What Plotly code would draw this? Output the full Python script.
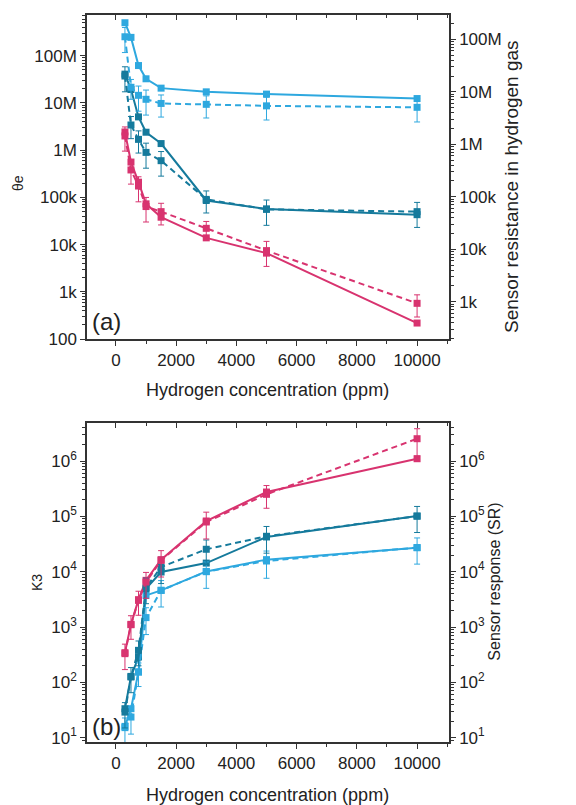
import plotly.graph_objects as go

# ---------------- data ----------------
conc = [300, 500, 750, 1000, 1500, 3000, 5000, 10000]

# Panel (a): theta_e (left axis, solid lines)
theta_lb = [5.0e8, 2.45e8, 6.2e7, 3.25e7, 2.06e7, 1.72e7, 1.54e7, 1.24e7]
theta_dt = [4.08e7, 1.93e7, 5.07e6, 2.4e6, 1.38e6, 8.6e4, 5.7e4, 4.3e4]
theta_mg = [2.43e6, 5.6e5, 2.1e5, 7.3e4, 3.8e4, 1.39e4, 6.6e3, 218]

# Panel (a): sensor resistance in hydrogen gas (right axis, dashed lines)
res_lb = [1.12e8, 1.22e7, 8.57e6, 7.2e6, 6.0e6, 5.77e6, 5.4e6, 5.06e6]
res_lb_err = [5.6e7, 5.0e6, 4.3e6, 3.6e6, 2.7e6, 2.6e6, 2.5e6, 2.4e6]
res_dt = [2.0e7, 2.33e6, 1.24e6, 7.0e5, 4.87e5, 8.9e4, 5.75e4, 5.2e4]
res_dt_err = [1.0e7, 1.05e6, 5.6e5, 3.5e5, 2.4e5, 4.0e4, 2.9e4, 2.6e4]
res_mg = [1.44e6, 3.24e5, 1.6e5, 6.5e4, 5.2e4, 2.5e4, 9.4e3, 930]
res_mg_err = [7.0e5, 1.5e5, 8.0e4, 3.2e4, 2.3e4, 8.8e3, 4.7e3, 420]

# Panel (b): K3 (left axis, solid lines)
k3_mg = [344, 1117, 3120, 6970, 16500, 82400, 2.75e5, 1.10e6]
k3_dt = [33.4, 128, 287, 4930, 9860, 14300, 42400, 1.01e5]
k3_lb = [16, 33.4, 154, 3730, 4600, 10100, 16500, 27200]

# Panel (b): sensor response SR (right axis, dashed lines)
sr_mg = [330, 1100, 3030, 6500, 16000, 79000, 2.5e5, 2.53e6]
sr_mg_err = [160, 500, 1400, 3200, 8000, 40000, 1.1e5, 1.3e6]
sr_dt = [29, 125, 379, 5140, 12100, 25400, 43600, 1.01e5]
sr_dt_err = [14, 60, 180, 2500, 6000, 12000, 22000, 50000]
sr_lb = [15.2, 23.6, 154, 1480, 4600, 10000, 15600, 27200]
sr_lb_err = [7.5, 12, 70, 750, 2300, 5000, 8000, 13500]

xticks = [0, 2000, 4000, 6000, 8000, 10000]
xtick_text = ["0", "2000", "4000", "6000", "8000", "10000"]
a_left_vals = [1e2, 1e3, 1e4, 1e5, 1e6, 1e7, 1e8]
a_left_text = ["100", "1k", "10k", "100k", "1M", "10M", "100M"]
a_right_vals = [1e3, 1e4, 1e5, 1e6, 1e7, 1e8]
a_right_text = ["1k", "10k", "100k", "1M", "10M", "100M"]
b_vals = [1e1, 1e2, 1e3, 1e4, 1e5, 1e6]
b_text = ["10<sup>1</sup>", "10<sup>2</sup>", "10<sup>3</sup>",
          "10<sup>4</sup>", "10<sup>5</sup>", "10<sup>6</sup>"]

# ---------------- style ----------------
C_LB = "#2ea8df"
C_DT = "#157a9c"
C_MG = "#d8336f"
FONT = "Arial, Liberation Sans, sans-serif"
TXT = "#222222"
AX = "#333333"

fig = go.Figure()


def add(x, y, color, xa, ya, dashed, err=None):
    kw = {}
    if err is not None:
        kw["error_y"] = dict(type="data", array=err, visible=True,
                             color=color, thickness=1, width=3)
    fig.add_trace(go.Scatter(
        x=x, y=y, mode="lines+markers", xaxis=xa, yaxis=ya,
        line=dict(color=color, width=2, dash="6px,4px" if dashed else "solid"),
        marker=dict(symbol="square", size=7, color=color),
        showlegend=False, **kw))


# panel (a)
add(conc, res_lb, C_LB, "x", "y2", True, res_lb_err)
add(conc, res_dt, C_DT, "x", "y2", True, res_dt_err)
add(conc, res_mg, C_MG, "x", "y2", True, res_mg_err)
add(conc, theta_lb, C_LB, "x", "y", False)
add(conc, theta_dt, C_DT, "x", "y", False)
add(conc, theta_mg, C_MG, "x", "y", False)

# panel (b)
add(conc, sr_lb, C_LB, "x2", "y4", True, sr_lb_err)
add(conc, sr_dt, C_DT, "x2", "y4", True, sr_dt_err)
add(conc, sr_mg, C_MG, "x2", "y4", True, sr_mg_err)
add(conc, k3_lb, C_LB, "x2", "y3", False)
add(conc, k3_dt, C_DT, "x2", "y3", False)
add(conc, k3_mg, C_MG, "x2", "y3", False)


def log_minors(lo, hi):
    out = []
    for e in range(lo, hi + 1):
        for m in range(2, 10):
            out.append(m * 10 ** e)
    return out


XR = [-960, 11060]
xcommon = dict(range=XR, tickvals=xticks, ticktext=xtick_text,
               ticks="outside", ticklen=5, automargin=False,
               tickwidth=1.2, tickcolor=AX, showline=True, linecolor=AX,
               linewidth=1.5, showgrid=False, zeroline=False,
               tickfont=dict(size=17, color=TXT, family=FONT),
               minor=dict(dtick=1000, tick0=0, ticks="outside", ticklen=3,
                          tickcolor=AX, showgrid=False))
xtop = dict(range=XR, tickvals=xticks, ticks="inside", ticklen=5,
            automargin=False,
            tickwidth=1.2, tickcolor=AX, showline=True, linecolor=AX,
            linewidth=1.5, showgrid=False, zeroline=False,
            showticklabels=False, side="top",
            minor=dict(dtick=1000, tick0=0, ticks="inside", ticklen=3,
                       tickcolor=AX, showgrid=False))


def ycommon(rng, vals, text, lo, hi, size=17):
    return dict(type="log", range=rng, tickvals=vals, ticktext=text,
                automargin=False,
                ticks="outside", ticklen=5, tickwidth=1.2, tickcolor=AX,
                showline=True, linecolor=AX, linewidth=1.5, showgrid=False,
                zeroline=False, tickfont=dict(size=size, color=TXT, family=FONT),
                minor=dict(tickvals=log_minors(lo, hi), ticks="outside",
                           ticklen=3, tickcolor=AX, showgrid=False))


TOP_DOM = [0.5543, 1.0]
BOT_DOM = [0.0, 0.4388]

fig.update_layout(
    width=576, height=805,
    margin=dict(l=87, r=127, t=15, b=63, autoexpand=False),
    paper_bgcolor="white", plot_bgcolor="white",
    font=dict(family=FONT, color=TXT),
    xaxis=dict(domain=[0, 1], anchor="y", **xcommon),
    xaxis3=dict(overlaying="x", anchor="y", **xtop),
    yaxis=dict(domain=TOP_DOM, anchor="x",
               **ycommon([2.0, 8.863], a_left_vals, a_left_text, 2, 8)),
    yaxis2=dict(overlaying="y", side="right", anchor="x",
                **ycommon([2.288, 8.464], a_right_vals, a_right_text, 2, 8)),
    xaxis2=dict(domain=[0, 1], anchor="y3", **xcommon),
    xaxis4=dict(overlaying="x2", anchor="y3", **xtop),
    yaxis3=dict(domain=BOT_DOM, anchor="x2",
                **ycommon([0.922, 6.687], b_vals, b_text, 0, 6)),
    yaxis4=dict(overlaying="y3", side="right", anchor="x2",
                **ycommon([0.922, 6.687], b_vals, b_text, 0, 6)),
)

# dummy traces so the overlay top axes render
fig.add_trace(go.Scatter(x=[None], y=[None], xaxis="x3", yaxis="y",
                         showlegend=False, hoverinfo="skip"))
fig.add_trace(go.Scatter(x=[None], y=[None], xaxis="x4", yaxis="y3",
                         showlegend=False, hoverinfo="skip"))


def ann(text, x, y, size, angle=0):
    fig.add_annotation(text=text, x=x, y=y, xref="paper", yref="paper",
                       showarrow=False, textangle=angle,
                       xanchor="center", yanchor="middle",
                       font=dict(size=size, color=TXT, family=FONT))


ann("Hydrogen concentration (ppm)", 0.4986, 0.4842, 18)
ann("Hydrogen concentration (ppm)", 0.4986, -0.0729, 18)
ann("θe", -0.1906, 0.7689, 14, -90)
ann("K3", -0.138, 0.2187, 14, -90)
ann("Sensor resistance in hydrogen gas", 1.174, 0.7648, 19, -90)
ann("Sensor response (SR)", 1.127, 0.2205, 16, -90)
ann("(a)", 0.055, 0.579, 24)
ann("(b)", 0.055, 0.022, 24)

fig.write_html(
    "out.html",
    config={"displayModeBar": False},
    post_script="document.body.style.margin='0px';"
                "document.body.style.overflow='hidden';",
)
